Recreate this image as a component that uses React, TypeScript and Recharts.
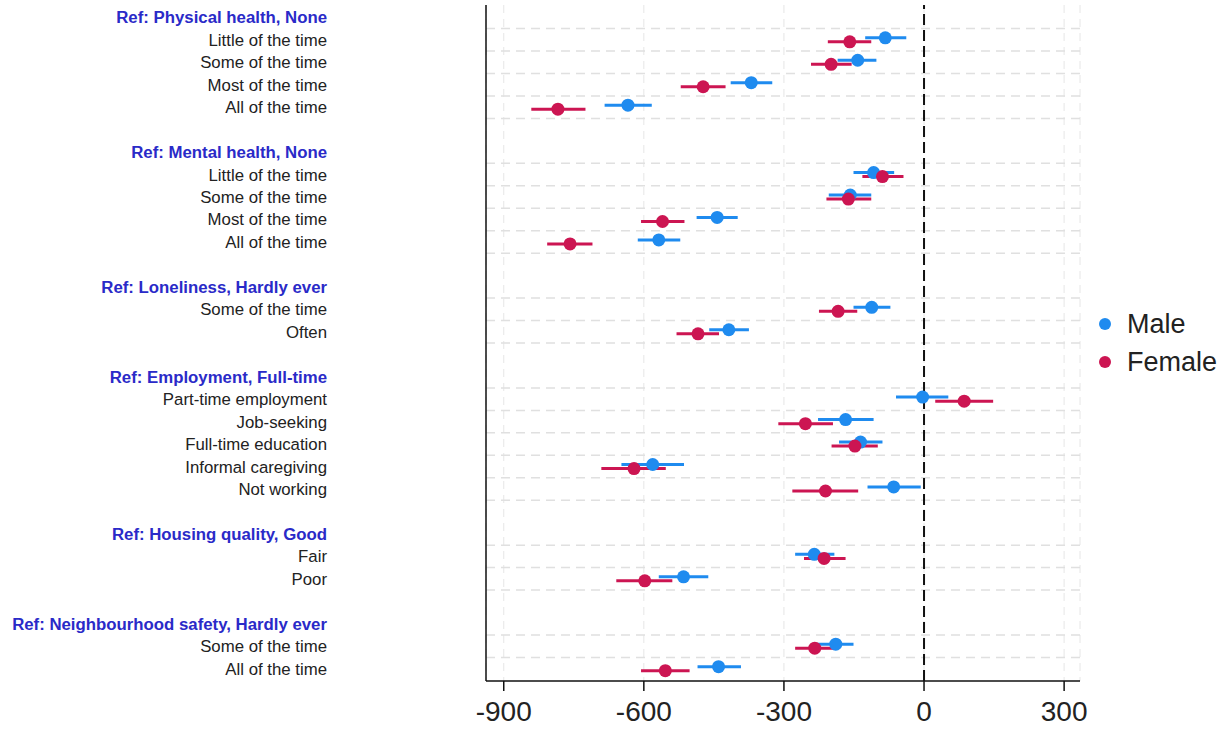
import {
  CartesianGrid,
  ErrorBar,
  Legend,
  ReferenceLine,
  Scatter,
  ScatterChart,
  XAxis,
  YAxis,
} from "recharts";

const rowLabels = [
  "Ref: Physical health, None",
  "Little of the time",
  "Some of the time",
  "Most of the time",
  "All of the time",
  "",
  "Ref: Mental health, None",
  "Little of the time",
  "Some of the time",
  "Most of the time",
  "All of the time",
  "",
  "Ref: Loneliness, Hardly ever",
  "Some of the time",
  "Often",
  "",
  "Ref: Employment, Full-time",
  "Part-time employment",
  "Job-seeking",
  "Full-time education",
  "Informal caregiving",
  "Not working",
  "",
  "Ref: Housing quality, Good",
  "Fair",
  "Poor",
  "",
  "Ref: Neighbourhood safety, Hardly ever",
  "Some of the time",
  "All of the time",
];
const headerRows = [1, 7, 13, 17, 24, 28];
const coefRows = [2, 3, 4, 5, 8, 9, 10, 11, 14, 15, 18, 19, 20, 21, 22, 25, 26, 29, 30];
const seriesNames = ["Male", "Female"];

const maleEst = [-83, -142, -370, -634, -108, -158, -443, -568, -112, -418, -3, -168, -136, -581, -65, -235, -515, -189, -440];
const maleLo = [-126, -185, -414, -684, -151, -204, -487, -613, -151, -460, -60, -227, -182, -648, -121, -276, -568, -231, -485];
const maleHi = [-38, -102, -325, -583, -64, -113, -399, -522, -72, -375, 52, -108, -89, -514, -7, -192, -462, -151, -392];

const femaleEst = [-159, -199, -473, -784, -89, -162, -560, -758, -184, -484, 86, -254, -148, -621, -211, -214, -598, -234, -554];
const femaleLo = [-206, -242, -521, -841, -132, -209, -606, -807, -225, -530, 24, -312, -198, -691, -282, -257, -659, -276, -606];
const femaleHi = [-113, -155, -425, -725, -44, -113, -513, -710, -143, -439, 148, -195, -99, -553, -141, -168, -539, -194, -502];

const xTicks = [-900, -600, -300, 0, 300];

const MALE = "#1f8bef";
const FEMALE = "#cc1552";
const FONT = "'Liberation Sans', Arial, sans-serif";

const build = (est: number[], lo: number[], hi: number[], shift: number) =>
  coefRows.map((r, i) => ({
    row: r + shift,
    value: est[i],
    err: [est[i] - lo[i], hi[i] - est[i]],
  }));

const maleData = build(maleEst, maleLo, maleHi, -0.09);
const femaleData = build(femaleEst, femaleLo, femaleHi, 0.09);

// dashed separators around every coefficient row
const gridRows = Array.from(
  new Set(coefRows.flatMap((r) => [r - 0.5, r + 0.5]))
).filter((b) => b < 30.5);

const rowTicks = rowLabels.map((_, i) => i + 1);

const YTick = ({ x, y, payload }: any) => {
  const i = payload.value as number;
  const head = headerRows.includes(i);
  return (
    <text
      x={x}
      y={y}
      dy={6}
      textAnchor="end"
      fontFamily={FONT}
      fontSize={16.8}
      fontWeight={head ? 700 : 400}
      fill={head ? "#2a2ac8" : "#222"}
    >
      {rowLabels[i - 1]}
    </text>
  );
};

const Dot = (color: string) => (p: any) =>
  <circle cx={p.cx} cy={p.cy} r={6.5} fill={color} />;

const LegendBox = ({ payload }: any) => {
  const items = seriesNames
    .map((n) => (payload || []).find((e: any) => e.value === n))
    .filter(Boolean);
  return (
    <div style={{ fontFamily: FONT }}>
      {items.map((e: any) => (
        <div
          key={e.value}
          style={{ display: "flex", alignItems: "center", height: 38 }}
        >
          <span
            style={{
              width: 12,
              height: 12,
              borderRadius: 6,
              background: e.color,
              marginRight: 16,
            }}
          />
          <span style={{ fontSize: 27, color: "#222" }}>{e.value}</span>
        </div>
      ))}
    </div>
  );
};

export default function App() {
  return (
    <div style={{ position: "absolute", left: 0, top: 0, fontFamily: FONT }}>
      <ScatterChart
        width={1224}
        height={729}
        margin={{ top: 5, right: 144, left: 0, bottom: 0 }}
      >
        <CartesianGrid
          horizontal={false}
          stroke="#e6e6e6"
          strokeDasharray="8 6"
        />
        {gridRows.map((b) => (
          <ReferenceLine
            key={b}
            y={b}
            stroke="#e0e0e0"
            strokeWidth={1.5}
            strokeDasharray="9 6"
          />
        ))}
        <XAxis
          type="number"
          dataKey="value"
          domain={[-938, 334]}
          allowDataOverflow
          ticks={xTicks}
          height={48}
          tickSize={10}
          tickMargin={10}
          stroke="#111"
          strokeWidth={1.5}
          tick={{ fontSize: 28, fill: "#222", fontFamily: FONT }}
        />
        <YAxis
          type="number"
          dataKey="row"
          domain={[0.45, 30.55]}
          allowDataOverflow
          reversed
          ticks={rowTicks}
          interval={0}
          width={486}
          tickSize={0}
          tickMargin={159}
          tickLine={false}
          stroke="#111"
          strokeWidth={1.5}
          tick={<YTick />}
        />
        <ReferenceLine
          x={0}
          stroke="#111"
          strokeWidth={2}
          strokeDasharray="11 5"
        />
        <Legend
          layout="horizontal"
          align="center"
          verticalAlign="middle"
          wrapperStyle={{ left: 1099, top: 305, width: 125 }}
          content={<LegendBox />}
        />
        <Scatter
          name="Male"
          data={maleData}
          fill={MALE}
          shape={Dot(MALE)}
          isAnimationActive={false}
        >
          <ErrorBar
            dataKey="err"
            direction="x"
            width={0}
            stroke={MALE}
            strokeWidth={3}
          />
        </Scatter>
        <Scatter
          name="Female"
          data={femaleData}
          fill={FEMALE}
          shape={Dot(FEMALE)}
          isAnimationActive={false}
        >
          <ErrorBar
            dataKey="err"
            direction="x"
            width={0}
            stroke={FEMALE}
            strokeWidth={3}
          />
        </Scatter>
      </ScatterChart>
    </div>
  );
}
